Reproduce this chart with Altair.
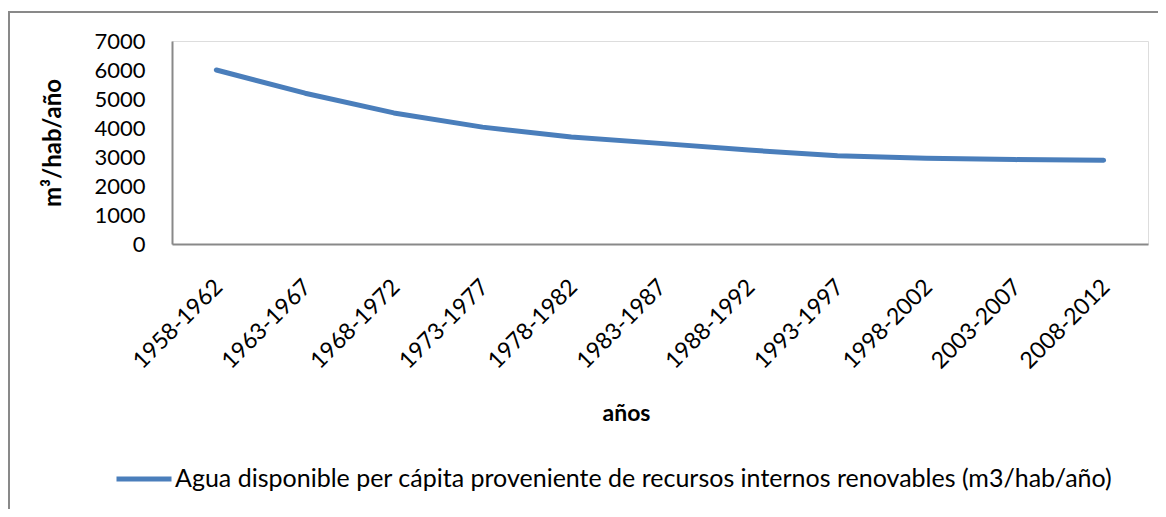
import altair as alt
import pandas as pd

periods = ["1958-1962", "1963-1967", "1968-1972", "1973-1977", "1978-1982",
           "1983-1987", "1988-1992", "1993-1997", "1998-2002", "2003-2007",
           "2008-2012"]
values = [6000, 5200, 4520, 4030, 3690, 3470, 3240, 3040, 2960, 2910, 2890]
series_name = "Agua disponible per cápita proveniente de recursos internos renovables (m3/hab/año)"
y_ticks = [0, 1000, 2000, 3000, 4000, 5000, 6000, 7000]

df = pd.DataFrame({"periodo": periods, "valor": values, "serie": [series_name] * len(periods)})

W, H = 976, 203
FONT = "Lato"
GRAY = "#898989"

line = alt.Chart(df).mark_line(strokeWidth=5, strokeCap="round", strokeJoin="round").encode(
    x=alt.X("periodo:N", sort=periods,
            scale=alt.Scale(type="point", padding=0.5),
            axis=alt.Axis(title="años", labelAngle=-45, labelAlign="right", labelBaseline="middle",
                          labelPadding=39, labelOffset=2, ticks=False, domainColor=GRAY,
                          domainWidth=2, labelFontSize=23, labelColor="black", labelFont=FONT,
                          titleFont=FONT, titleFontSize=23, titleFontWeight="bold",
                          titleX=454, titleY=176, titleBaseline="alphabetic", titleAlign="center",
                          labelOverlap=False)),
    y=alt.Y("valor:Q", scale=alt.Scale(domain=[0, 7000], nice=False),
            axis=alt.Axis(title="m³/hab/año", values=y_ticks, format="d", grid=False, ticks=False,
                          labelPadding=27, domainColor=GRAY, domainWidth=2,
                          labelFontSize=22, labelColor="black", labelFont=FONT,
                          titleFont=FONT, titleFontSize=24, titleFontWeight="bold",
                          titleX=-119, titleY=H / 2, titleAngle=-90, titleBaseline="middle",
                          titleAlign="center")),
    color=alt.Color("serie:N", scale=alt.Scale(range=["#4A7EBB"]),
                    legend=alt.Legend(title=None, orient="none", legendX=-58, legendY=408,
                                      symbolType="stroke", symbolSize=3025, symbolStrokeWidth=5,
                                      labelFontSize=25, labelFont=FONT, labelColor="black",
                                      labelOffset=1, labelLimit=2000)),
)

frame_data = alt.Data(values=[{}])
left_edge = alt.Chart(frame_data).mark_rule(color=GRAY, strokeWidth=2).encode(
    x=alt.value(-163), y=alt.value(-29), y2=alt.value(H + 400))
top_edge = alt.Chart(frame_data).mark_rule(color=GRAY, strokeWidth=2).encode(
    x=alt.value(-164), x2=alt.value(W + 400), y=alt.value(-29))

chart = alt.layer(left_edge, top_edge, line).properties(
    width=W, height=H,
    autosize=alt.AutoSizeParams(type="none"),
    padding={"left": 164, "top": 33, "right": 10, "bottom": 265},
).configure_view(stroke=None).configure(background="white")

chart.save("out.html", embed_options={"renderer": "svg", "actions": False})
